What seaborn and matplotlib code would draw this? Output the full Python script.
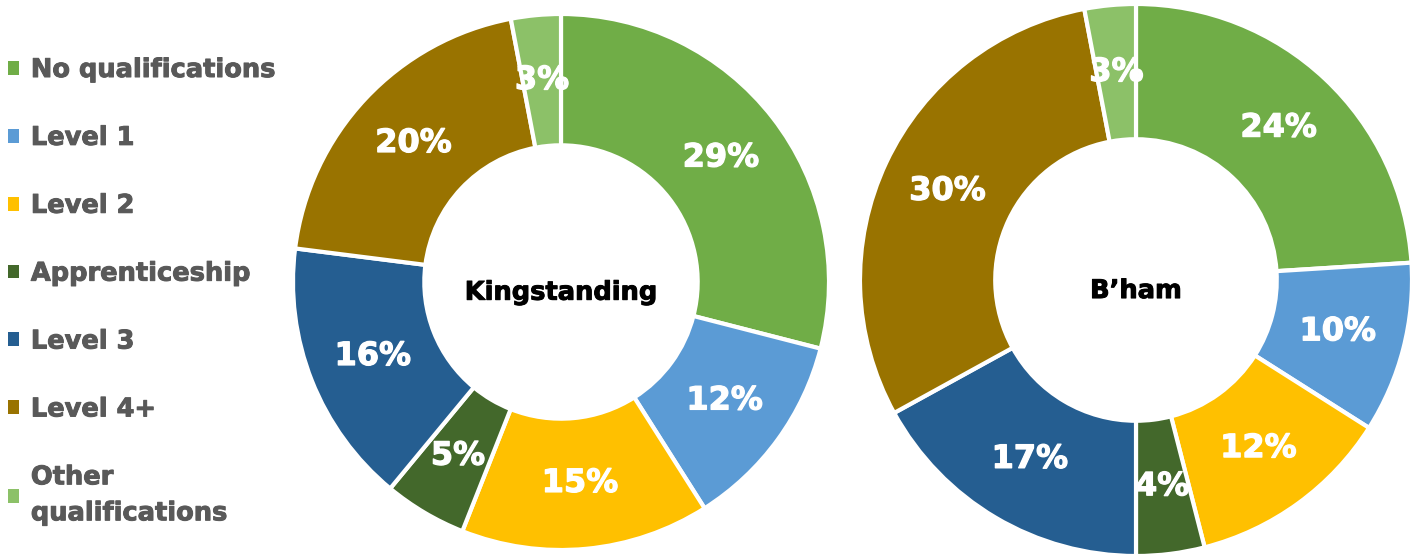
import matplotlib
matplotlib.use("Agg")
import matplotlib.pyplot as plt
from matplotlib.patches import Patch
import matplotlib.patheffects as pe
import numpy as np
import seaborn as sns

categories = ["No qualifications", "Level 1", "Level 2", "Apprenticeship",
              "Level 3", "Level 4+", "Other qualifications"]
legend_labels = ["No qualifications", "Level 1", "Level 2", "Apprenticeship",
                 "Level 3", "Level 4+", "Other\nqualifications"]
kingstanding = [29, 12, 15, 5, 16, 20, 3]
birmingham = [24, 10, 12, 4, 17, 30, 3]
titles = ["Kingstanding", "B\u2019ham"]
colors = ["#70AD47", "#5B9BD5", "#FFC000", "#43682B", "#255E91", "#997300", "#8CC168"]

sns.set_theme(style="white")
plt.rcParams['font.family'] = ['DejaVu Sans']

W, H = 1421, 554
fig = plt.figure(figsize=(W / 100, H / 100), dpi=100)


def add_donut(values, title, cx, cy, r):
    ax = fig.add_axes([(cx - r) / W, (H - cy - r) / H, 2 * r / W, 2 * r / H])
    wedges, texts = ax.pie(values, colors=colors, startangle=90, counterclock=False,
                           radius=1.0,
                           wedgeprops=dict(width=0.49, edgecolor="white", linewidth=3))
    for w, v in zip(wedges, values):
        ang = np.deg2rad((w.theta1 + w.theta2) / 2)
        rr = 1.0 - 0.49 / 2
        ax.text(rr * np.cos(ang), rr * np.sin(ang), f"{v}%", ha="center", va="center",
                color="white", fontsize=23, fontweight="bold",
                path_effects=[pe.withStroke(linewidth=0.9, foreground="white")])
    ax.text(0, -0.04, title, ha="center", va="center", color="black",
            fontsize=18.5, fontweight="bold",
            path_effects=[pe.withStroke(linewidth=0.7, foreground="black")])
    ax.set_xlim(-1, 1)
    ax.set_ylim(-1, 1)
    ax.set_aspect("equal")
    ax.axis("off")
    return ax


add_donut(kingstanding, titles[0], 561, 282, 268)
add_donut(birmingham, titles[1], 1136, 280, 276)

handles = [Patch(facecolor=c, edgecolor="none") for c in colors]
leg = fig.legend(handles, legend_labels, loc="upper left",
                 bbox_to_anchor=(0.0, 0.911), frameon=False,
                 prop=dict(size=18.5, weight="bold"), labelcolor="#595959",
                 handlelength=0.45, handleheight=0.45, handletextpad=0.45,
                 labelspacing=1.63, borderaxespad=0, borderpad=0.3)
for t in leg.get_texts():
    t.set_path_effects([pe.withStroke(linewidth=0.7, foreground="#595959")])
leg.get_texts()[-1].set_linespacing(1.5)

fig.savefig("out.png", dpi=100)
